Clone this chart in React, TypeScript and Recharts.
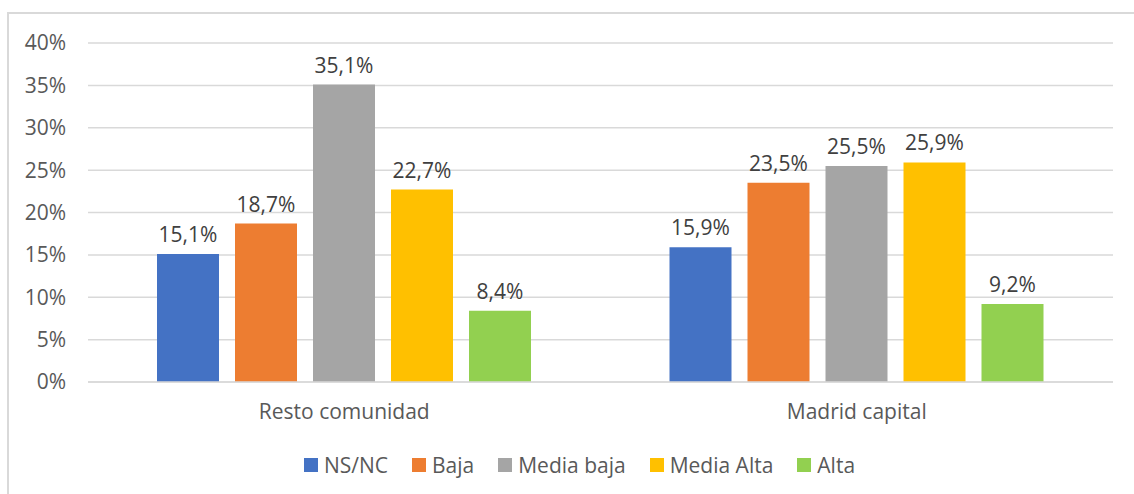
import React from 'react';
import { BarChart, Bar, XAxis, YAxis, CartesianGrid, Legend, LabelList } from 'recharts';

const categories = ['Resto comunidad', 'Madrid capital'];
const seriesNames = ['NS/NC', 'Baja', 'Media baja', 'Media Alta', 'Alta'];
const nsnc = [15.1, 15.9];
const baja = [18.7, 23.5];
const mediaBaja = [35.1, 25.5];
const mediaAlta = [22.7, 25.9];
const alta = [8.4, 9.2];
const yTicks = [0, 5, 10, 15, 20, 25, 30, 35, 40];
const colors = ['#4472C4', '#ED7D31', '#A5A5A5', '#FFC000', '#92D050'];

const seriesValues = [nsnc, baja, mediaBaja, mediaAlta, alta];
const data = categories.map((c, i) => {
  const row: any = { name: c };
  seriesNames.forEach((s, j) => {
    row[s] = seriesValues[j][i];
  });
  return row;
});

const FONT = '"Open Sans", sans-serif';

const fmt = (v: number) => v.toFixed(1).replace('.', ',') + '%';

const LegendContent = () => (
  <div style={{ display: 'flex', justifyContent: 'center', alignItems: 'center', fontFamily: FONT, fontSize: 21, color: '#595959', height: 26, paddingLeft: 38 }}>
    {seriesNames.map((s, i) => (
      <div key={s} style={{ display: 'flex', alignItems: 'center', marginRight: i < seriesNames.length - 1 ? 24 : 0 }}>
        <div style={{ width: 14, height: 14, background: colors[i], marginRight: 6 }} />
        <span>{s}</span>
      </div>
    ))}
  </div>
);

export default function App() {
  return (
    <div style={{ position: 'absolute', left: 0, top: 0, width: 1134, height: 494, overflow: 'hidden', background: '#fff' }}>
      <div style={{ position: 'absolute', left: 7, top: 12, width: 1140, height: 500, border: '2px solid #d9d9d9', boxSizing: 'border-box' }} />
      <div style={{ position: 'absolute', left: 0, top: 0 }}>
        <BarChart
          width={1134}
          height={494}
          data={data}
          margin={{ top: 43, right: 21, left: 8, bottom: 16 }}
          barSize={62}
          barGap={16}
        >
          <CartesianGrid vertical={false} stroke="#d9d9d9" strokeWidth={1.5} />
          <XAxis
            dataKey="name"
            height={70}
            tickSize={0}
            tickMargin={22}
            axisLine={{ stroke: '#d9d9d9', strokeWidth: 1.5 }}
            tick={{ fontFamily: FONT, fontSize: 21, fill: '#595959' }}
          />
          <YAxis
            width={80}
            domain={[0, 40]}
            ticks={yTicks}
            interval={0}
            tickFormatter={(v: number) => v + '%'}
            axisLine={false}
            tickLine={false}
            tickSize={0}
            tickMargin={22}
            tick={{ fontFamily: FONT, fontSize: 21, fill: '#595959' }}
          />
          <Legend verticalAlign="bottom" content={<LegendContent />} />
          {seriesNames.map((s, i) => (
            <Bar key={s} dataKey={s} fill={colors[i]} isAnimationActive={false}>
              <LabelList
                dataKey={s}
                position="top"
                offset={12}
                formatter={(v: any) => fmt(Number(v))}
                style={{ fontFamily: FONT, fontSize: 21, fill: '#404040' }}
              />
            </Bar>
          ))}
        </BarChart>
      </div>
    </div>
  );
}
